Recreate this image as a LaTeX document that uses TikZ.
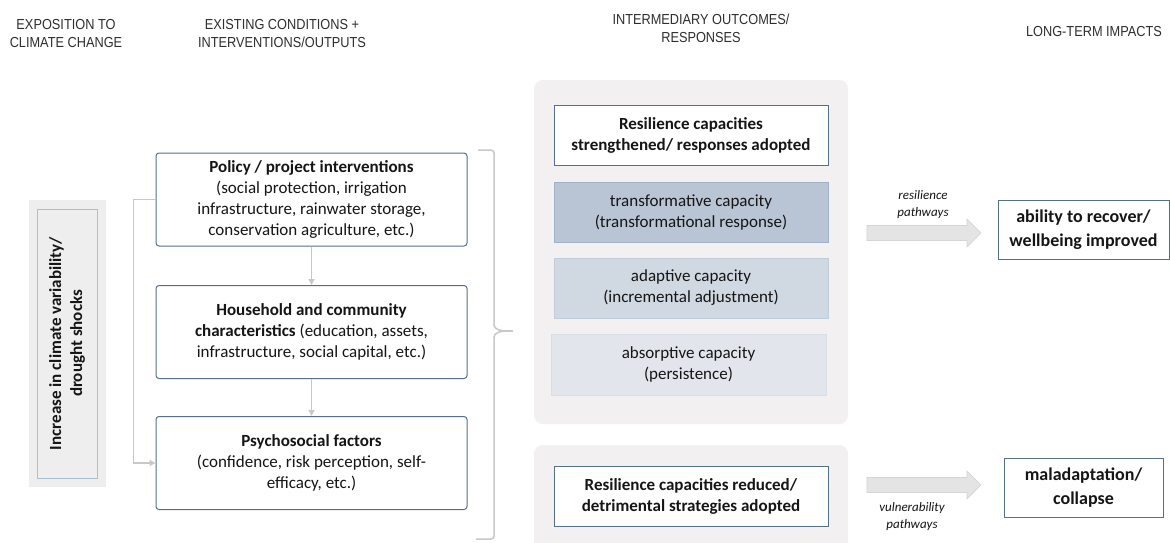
\documentclass[tikz,border=0pt]{standalone}
\usepackage{fontspec}
\setmainfont{Carlito}
\newfontfamily\hdrfont[FakeStretch=0.88]{Liberation Sans}
\usetikzlibrary{arrows.meta}
\definecolor{boxc}{HTML}{55708F}
\definecolor{panelc}{HTML}{F2F0F1}
\definecolor{leftbg}{HTML}{EFEEEE}
\definecolor{leftbd}{HTML}{A9BFD4}
\definecolor{transf}{HTML}{B9C5D5}
\definecolor{transbd}{HTML}{9FB2C9}
\definecolor{adapf}{HTML}{D0D8E2}
\definecolor{adapbd}{HTML}{BFCCDA}
\definecolor{absf}{HTML}{E2E6EC}
\definecolor{absbd}{HTML}{D8DEE6}
\definecolor{connc}{HTML}{C8C8C8}
\definecolor{blockf}{HTML}{E4E4E4}
\definecolor{blockbd}{HTML}{D4D4D4}
\definecolor{hdrc}{HTML}{2E2E2E}
\definecolor{txtc}{HTML}{151515}
\tikzset{
  hdr/.style={font=\hdrfont\fontsize{14.5}{18}\selectfont, text=hdrc, align=center, inner sep=0pt},
  bodytxt/.style={font=\fontsize{17}{21}\selectfont, text=txtc, align=center, inner sep=0pt},
  leftbox/.style={bodytxt, draw=boxc, line width=1pt, rounded corners=3pt, fill=white,
    minimum width=311pt, minimum height=93pt},
  midbox/.style={bodytxt, line width=1pt, minimum width=274pt, minimum height=60pt},
  rightbox/.style={font=\bfseries\fontsize{18}{24}\selectfont, text=txtc, align=center, inner sep=0pt,
    draw=boxc, line width=1pt, fill=white},
  panel/.style={fill=panelc, rounded corners=9pt, inner sep=0pt},
  conn/.style={draw=connc, line width=1.3pt, -{Triangle[length=6pt,width=6pt]}},
  blockarrow/.style={fill=blockf, draw=blockbd, line width=0.6pt},
  pathlbl/.style={font=\itshape\fontsize{13}{17}\selectfont, text=txtc, align=center, inner sep=0pt}
}
\begin{document}
\begin{tikzpicture}[x=1pt,y=-1pt]
\useasboundingbox (0,0) rectangle (1170,542);
\clip (0,0) rectangle (1170,542);
\fill[white] (0,0) rectangle (1170,542);

% headers
\node[hdr] (h1) at (66,34) {EXPOSITION TO\\CLIMATE CHANGE};
\node[hdr] (h2) at (282,34) {EXISTING CONDITIONS +\\INTERVENTIONS/OUTPUTS};
\node[hdr] (h3) at (701,28) {INTERMEDIARY OUTCOMES/\\RESPONSES};
\node[hdr] (h4) at (1094,32) {LONG-TERM IMPACTS};

% left exposure box
\node[fill=leftbg, minimum width=77pt, minimum height=287pt, inner sep=0pt] (lbg) at (67.5,343.5) {};
\node[fill=leftbg, draw=leftbd, line width=0.8pt, minimum width=60pt, minimum height=269pt, inner sep=0pt] (lin) at (67,343.5) {};
\node[rotate=90, font=\bfseries\fontsize{17}{21}\selectfont, text=txtc, align=center, inner sep=0pt] (ltxt) at (67,343.5)
  {Increase in climate variability/\\drought shocks};

% existing conditions boxes
\node[leftbox] (b1) at (311.5,199.5) {\textbf{Policy / project interventions}\\(social protection, irrigation\\infrastructure, rainwater storage,\\conservation agriculture, etc.)};
\node[leftbox] (b2) at (311.5,332) {\textbf{Household and community}\\\textbf{characteristics} (education, assets,\\infrastructure, social capital, etc.)};
\node[leftbox] (b3) at (311.5,463) {\textbf{Psychosocial factors}\\(confidence, risk perception, self-\\efficacy, etc.)};

\draw[conn] (b1.south) -- (b2.north);
\draw[conn] (b2.south) -- (b3.north);
\draw[conn] (b1.west) -- ++(-22,0) |- (b3.west);

% brace
\draw[connc, line width=1.5pt, rounded corners=3pt] (478,150) -- (494,150) -- (494,326);
\draw[connc, line width=1.5pt] (494,324) .. controls (494,330) and (499,331) .. (513,331)
  .. controls (499,331) and (494,332) .. (494,338);
\draw[connc, line width=1.5pt, rounded corners=3pt] (494,336) -- (494,539) -- (476,539);

% middle panels
\node[panel, minimum width=314pt, minimum height=344pt] (pup) at (691,252) {};
\node[panel, minimum width=314pt, minimum height=120pt] (plo) at (691,505) {};

\node[midbox, draw=boxc, fill=white] (m0) at (691,135) {\textbf{Resilience capacities}\\\textbf{strengthened/ responses adopted}};
\node[midbox, draw=transbd, fill=transf] (m1) at (691,212) {transformative capacity\\(transformational response)};
\node[midbox, draw=adapbd, fill=adapf] (m2) at (691,288) {adaptive capacity\\(incremental adjustment)};
\node[midbox, draw=absbd, fill=absf, minimum width=275pt, minimum height=61pt] (m3) at (688.5,364.5) {absorptive capacity\\(persistence)};

\node[midbox, draw=boxc, fill=white] (m4) at (691,496) {\textbf{Resilience capacities reduced/}\\\textbf{detrimental strategies adopted}};

% pathways
\draw[blockarrow] (867,225.5) -- (967,225.5) -- (967,219) -- (981,233) -- (967,247) -- (967,240.5) -- (867,240.5) -- cycle;
\node[pathlbl] (l1) at (923,204.5) {resilience\\pathways};
\node[rightbox, minimum width=171pt, minimum height=59pt] (r1) at (1083.5,229.5) {ability to recover/\\wellbeing improved};

\draw[blockarrow] (867,477.5) -- (967,477.5) -- (967,471) -- (981,485) -- (967,499) -- (967,492.5) -- (867,492.5) -- cycle;
\node[pathlbl] (l2) at (912,517) {vulnerability\\pathways};
\node[rightbox, minimum width=159pt, minimum height=59pt] (r2) at (1083.5,487.5) {maladaptation/\\collapse};
\end{tikzpicture}
\end{document}
